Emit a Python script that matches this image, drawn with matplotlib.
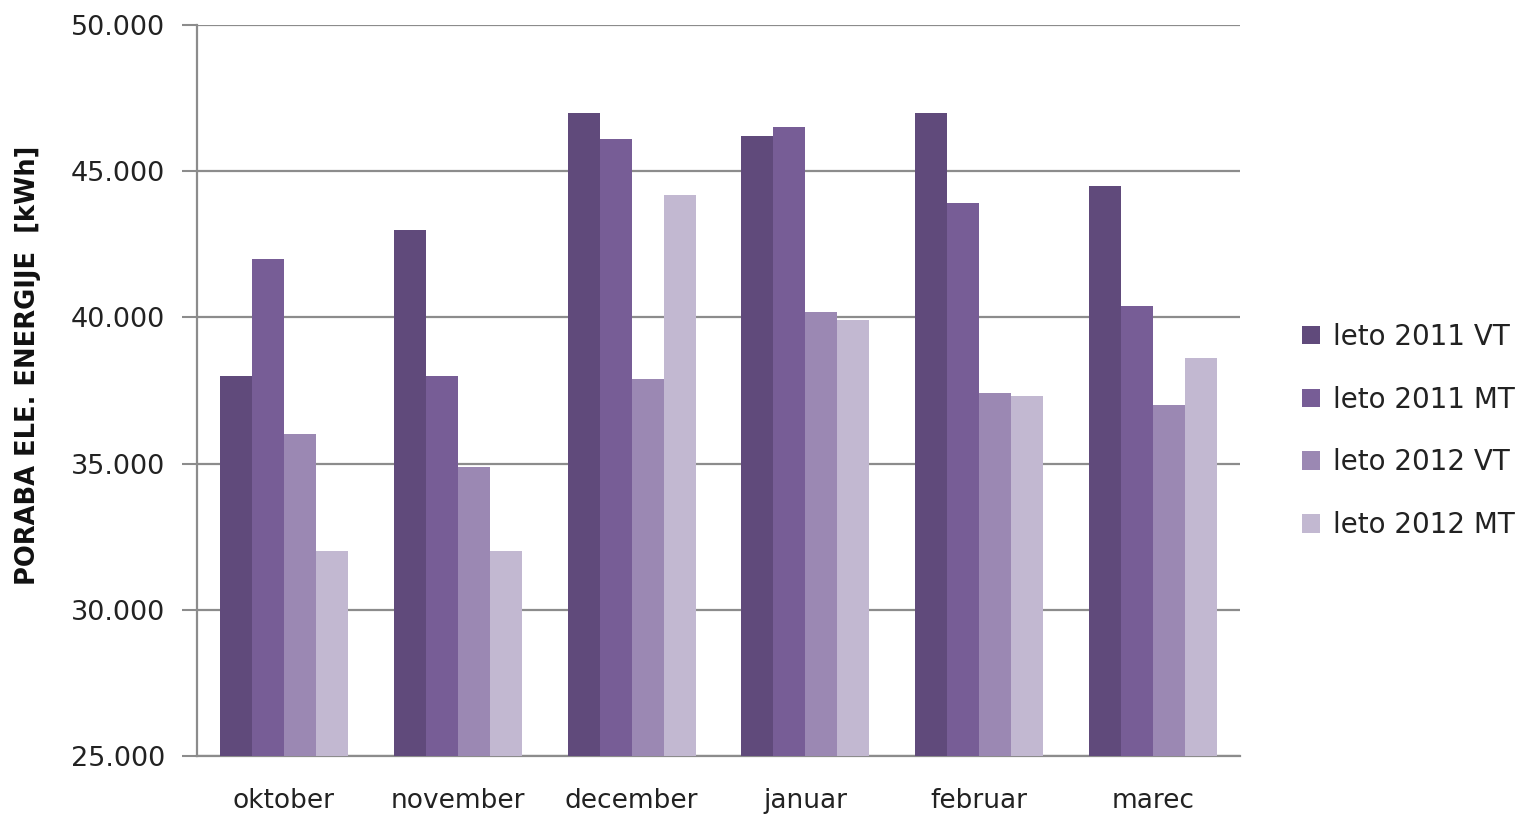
import matplotlib
matplotlib.use("Agg")
import matplotlib.pyplot as plt
import numpy as np

months = ["oktober", "november", "december", "januar", "februar", "marec"]
series_names = ["leto 2011 VT", "leto 2011 MT", "leto 2012 VT", "leto 2012 MT"]
vt_2011 = [38000, 43000, 47000, 46200, 47000, 44500]
mt_2011 = [42000, 38000, 46100, 46500, 43900, 40400]
vt_2012 = [36000, 34900, 37900, 40200, 37400, 37000]
mt_2012 = [32000, 32000, 44200, 39900, 37300, 38600]
yticks = [25000, 30000, 35000, 40000, 45000, 50000]
ytick_labels = ["25.000", "30.000", "35.000", "40.000", "45.000", "50.000"]

colors = ["#604A7B", "#775D96", "#9B88B3", "#C2B8D1"]
series = [vt_2011, mt_2011, vt_2012, mt_2012]

plt.rcParams['font.family'] = ['DejaVu Sans']
fig = plt.figure(figsize=(15.19, 8.18), dpi=100)
ax = fig.add_axes([197/1519, 1-756/818, (1240-197)/1519, (756-25)/818])

x = np.arange(len(months))
bw = 0.184
for i, (vals, c, name) in enumerate(zip(series, colors, series_names)):
    ax.bar(x + (i - 1.5) * bw, vals, width=bw, color=c, label=name, zorder=3)

ax.set_xlim(-0.5, len(months) - 0.5)
ax.set_ylim(25000, 50000)
ax.set_yticks(yticks)
ax.set_yticklabels(ytick_labels, fontsize=19.5, color="#222222")
ax.set_xticks(x)
ax.set_xticklabels(months, fontsize=19, color="#222222")
ax.tick_params(axis="x", length=0, pad=23)
ax.tick_params(axis="y", length=11, width=1.5, color="#8c8c8c", pad=12)
ax.grid(axis="y", color="#8c8c8c", linewidth=1.6, zorder=0)
for s in ["top", "right"]:
    ax.spines[s].set_visible(False)
for s in ["left", "bottom"]:
    ax.spines[s].set_color("#8c8c8c")
    ax.spines[s].set_linewidth(1.6)

fig.text(28/1519, 1-365/818, "PORABA ELE. ENERGIJE  [kWh]", rotation=90,
         ha="center", va="center", fontsize=18.5, fontweight="bold", color="#111111")

leg = fig.legend(loc="center left", bbox_to_anchor=(1277/1519, 1-431/818), frameon=False,
                 fontsize=20, handlelength=0.65, handleheight=0.65, handletextpad=0.45,
                 labelspacing=1.25)
for t in leg.get_texts():
    t.set_color("#222222")

fig.savefig("out.png", dpi=100)
